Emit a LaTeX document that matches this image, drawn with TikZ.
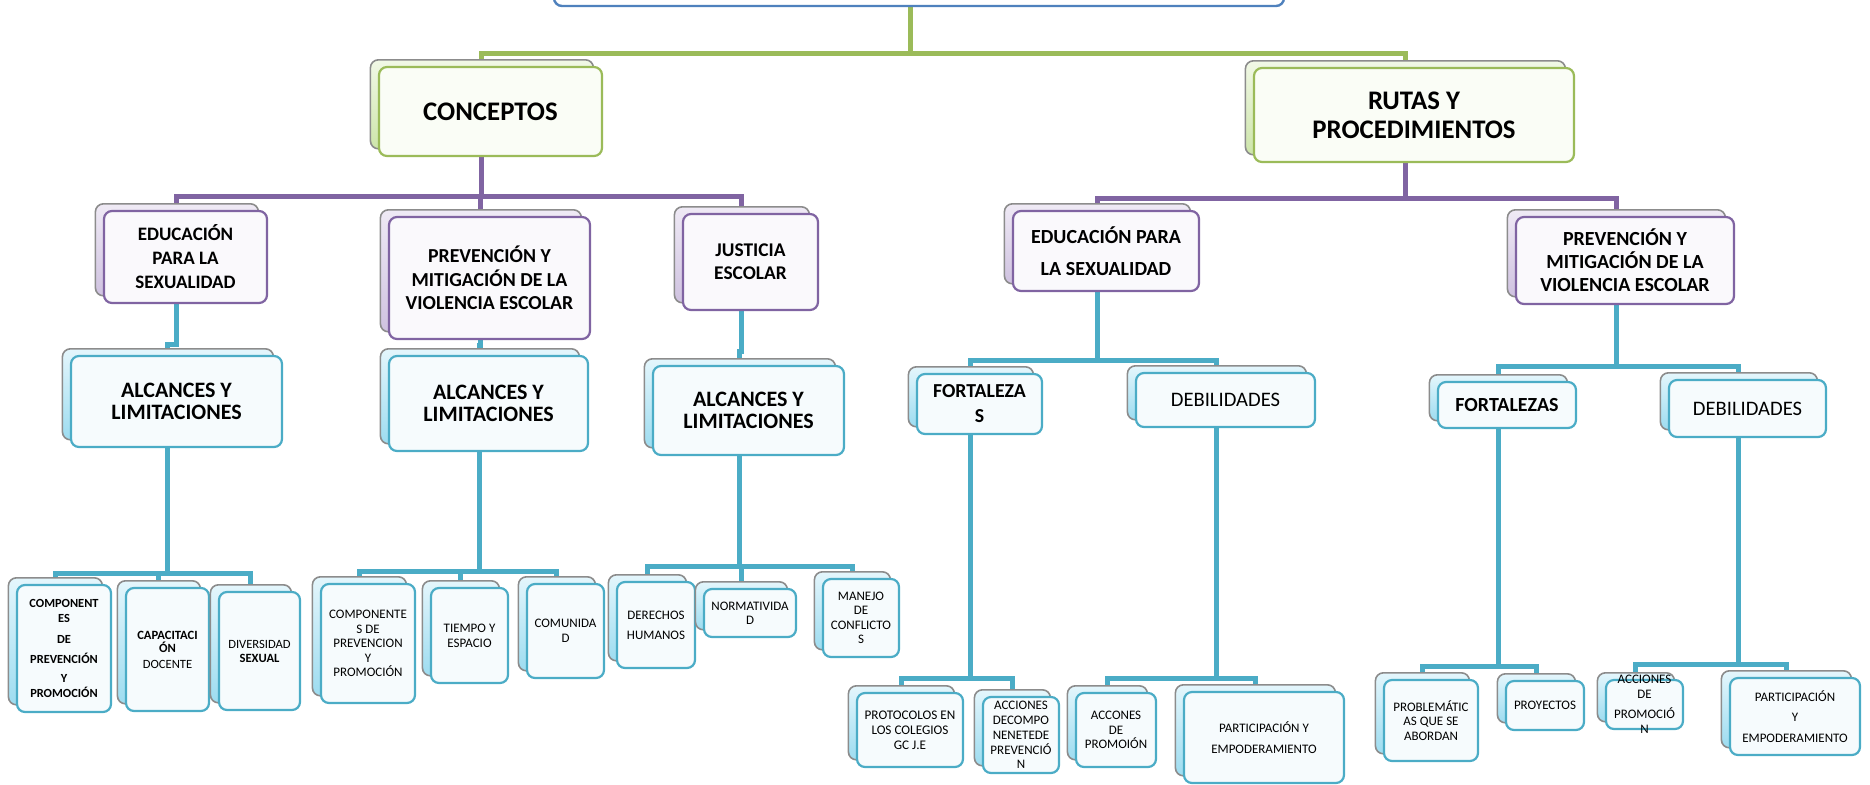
\documentclass[tikz,border=0pt]{standalone}
\usepackage{fontspec}
\setmainfont{Carlito}
\usetikzlibrary{shadows,calc}
\pgfdeclarelayer{bg}
\pgfsetlayers{bg,main}

\definecolor{gline}{HTML}{9BBB59}
\definecolor{pline}{HTML}{8064A2}
\definecolor{cline}{HTML}{4BACC6}
\definecolor{rootdraw}{HTML}{4F81BD}
\definecolor{gbacktop}{HTML}{F1F8E6}
\definecolor{gbackbot}{HTML}{CDE5AA}
\definecolor{gfront}{HTML}{FAFDF6}
\definecolor{pbacktop}{HTML}{EFEAF5}
\definecolor{pbackbot}{HTML}{CFC2E0}
\definecolor{pfront}{HTML}{FAF9FC}
\definecolor{cbacktop}{HTML}{E4F6FC}
\definecolor{cbackbot}{HTML}{9DDCF0}
\definecolor{cfront}{HTML}{F6FBFD}
\definecolor{shadowgray}{HTML}{8C8C8C}

\tikzset{
  mybox/.style={rounded corners=4pt, inner sep=0pt, align=center, anchor=center, line width=1.1pt},
  backlayer/.style 2 args={copy shadow={shadow xshift=-4.3pt, shadow yshift=3.6pt, top color=#1, bottom color=#2, draw=shadowgray, line width=0.8pt}},
  gbox/.style={mybox, draw=gline, fill=gfront, backlayer={gbacktop}{gbackbot}},
  pbox/.style={mybox, draw=pline, fill=pfront, backlayer={pbacktop}{pbackbot}},
  cbox/.style={mybox, draw=cline, fill=cfront, backlayer={cbacktop}{cbackbot}},
  sz/.style 2 args={minimum width=#1pt, minimum height=#2pt},
  fn/.style 2 args={font=\fontsize{#1}{#2}\selectfont},
  fb/.style 2 args={font=\fontsize{#1}{#2}\selectfont\bfseries},
  txt/.style={inner sep=0pt, align=center, anchor=center},
  gcon/.style={draw=gline, line width=2.5pt},
  pcon/.style={draw=pline, line width=2.5pt},
  ccon/.style={draw=cline, line width=2.5pt},
}

\begin{document}
\begin{tikzpicture}[x=0.5pt,y=-0.5pt]
\useasboundingbox (0,0) rectangle (1870,784);
\clip (0,0) rectangle (1870,784);

% root
\node[mybox, draw=rootdraw, fill=white, line width=1.2pt, sz={365}{43}] (root) at (919,-37) {};

% level 1
\node[gbox, sz={111.5}{44.5}, fb={13.4}{14.5}] (conc) at (490.5,111.5) {CONCEPTOS};
\node[gbox, sz={160}{47}, fb={13.4}{14.5}] (rutas) at (1414,115) {RUTAS Y\\PROCEDIMIENTOS};

% level 2
\node[pbox, sz={81.5}{46}, fb={9.5}{12}] (edu1) at (185.5,257) {EDUCACIÓN\\PARA LA\\SEXUALIDAD};
\node[pbox, sz={100.5}{61}, fb={9.9}{11.8}] (prev1) at (489.5,278) {PREVENCIÓN Y\\MITIGACIÓN DE LA\\VIOLENCIA ESCOLAR};
\node[pbox, sz={67.5}{48}, fb={9.7}{11.5}] (just) at (750.5,262) {JUSTICIA\\ESCOLAR};
\node[pbox, sz={93}{40}, fb={10}{16}] (edu2) at (1106,251) {EDUCACIÓN PARA\\LA SEXUALIDAD};
\node[pbox, sz={109}{43.5}, fb={10}{11.5}] (prev2) at (1625,260.5) {PREVENCIÓN Y\\MITIGACIÓN DE LA\\VIOLENCIA ESCOLAR};

% level 3
\node[cbox, sz={105.5}{45.5}, fb={11}{11.2}] (alc1) at (176.5,401.5) {ALCANCES Y\\LIMITACIONES};
\node[cbox, sz={99.5}{47.5}, fb={11}{11.2}] (alc2) at (488.5,403.5) {ALCANCES Y\\LIMITACIONES};
\node[cbox, sz={95.5}{44.5}, fb={11}{11.2}] (alc3) at (748.5,410.5) {ALCANCES Y\\LIMITACIONES};
\node[cbox, sz={62.5}{30}, fb={9.9}{12.5}] (fort1) at (979.5,404) {FORTALEZA\\S};
\node[cbox, sz={89.5}{27}, fn={10.3}{12}] (deb1) at (1225.5,400) {DEBILIDADES};
\node[cbox, sz={69}{23}, fb={10}{12}] (fort2) at (1507,405) {FORTALEZAS};
\node[cbox, sz={78.5}{28.5}, fn={10.3}{12}] (deb2) at (1747.5,408.5) {DEBILIDADES};

% level 4
\node[cbox, sz={47}{63.5}, fb={6.2}{7.5}] (comp1) at (64,648.5) {COMPONENT\\ES\\[3pt]DE\\[2.5pt]PREVENCIÓN\\[2pt]Y\\PROMOCIÓN};
\node[cbox, sz={41.5}{61.5}, fn={6.3}{6.5}] (capa) at (167.5,649.5) {\textbf{CAPACITACI}\\\textbf{ÓN}\\[1.5pt]DOCENTE};
\node[cbox, sz={40.5}{59}, fn={6.3}{7}] (div) at (259.5,651) {DIVERSIDAD\\\textbf{SEXUAL}};
\node[cbox, sz={47}{59.5}, fn={6.5}{7.3}] (comp2) at (368,643.5) {COMPONENTE\\S DE\\PREVENCION\\Y\\PROMOCIÓN};
\node[cbox, sz={38.5}{47.5}, fn={6.5}{7.5}] (tiempo) at (469.5,635.5) {TIEMPO Y\\ESPACIO};
\node[cbox, sz={38.5}{47}, fn={6.5}{7.5}] (comun) at (565.5,631) {COMUNIDA\\D};
\node[cbox, sz={39}{43}, fn={6.5}{10}] (derechos) at (656,625) {DERECHOS\\HUMANOS};
\node[cbox, sz={46}{24}, fn={6.5}{7}] (norma) at (750,613) {NORMATIVIDA\\D};
\node[cbox, sz={38}{39}, fn={6.5}{7.2}] (manejo) at (861,618) {MANEJO\\DE\\CONFLICTO\\S};
\node[cbox, sz={53}{37}, fn={6.6}{7.5}] (proto) at (910,730) {PROTOCOLOS EN\\LOS COLEGIOS\\GC J.E};
\node[cbox, sz={38}{38}, fn={6.5}{7.4}] (accdec) at (1021,735) {ACCIONES\\DECOMPO\\NENETEDE\\PREVENCIÓ\\N};
\node[cbox, sz={40}{37}, fn={6.5}{7.3}] (accon) at (1116,730) {ACCONES\\DE\\PROMOIÓN};
\node[cbox, sz={80}{45.5}, fn={6.5}{10.5}] (part1) at (1264,737.5) {PARTICIPACIÓN Y\\EMPODERAMIENTO};
\node[cbox, sz={47}{40.5}, fn={6.5}{7.3}] (probl) at (1431,720.5) {PROBLEMÁTIC\\AS QUE SE\\ABORDAN};
\node[cbox, sz={39}{24.5}, fn={6.5}{7.5}] (proy) at (1545,705.5) {PROYECTOS};
\node[cbox, sz={38.5}{24.5}] (accprom) at (1644.5,704.5) {};
\node[txt, fn={6.5}{7.5}] (accpromT) at (accprom.center) {ACCIONES\\DE\\[2.5pt]PROMOCIÓ\\N};
\node[cbox, sz={65}{38.5}, fn={6.5}{10.3}] (part2) at (1795,716.5) {PARTICIPACIÓN\\Y\\EMPODERAMIENTO};

% connectors
\begin{pgfonlayer}{bg}
\draw[gcon] ([xshift=-4.5pt]root.south) -- ++(0,46) -| ([xshift=-4.5pt]conc.north);
\draw[gcon] ([xshift=-4.5pt]root.south) -- ++(0,46) -| ([xshift=-4.5pt]rutas.north);

\foreach \c in {edu1,prev1,just}
  \draw[pcon] ([xshift=-4.5pt]conc.south) -- ++(0,39) -| ([xshift=-4.5pt]\c.north);
\foreach \c in {edu2,prev2}
  \draw[pcon] ([xshift=-4.5pt]rutas.south) -- ++(0,35) -| ([xshift=-4.5pt]\c.north);

\draw[ccon] ([xshift=-4.5pt]edu1.south) -- ++(0,40) -| ([xshift=-4.5pt]alc1.north);
\draw[ccon] ([xshift=-4.5pt]prev1.south) -- ++(0,5) -| ([xshift=-4.5pt]alc2.north);
\draw[ccon] ([xshift=-4.5pt]just.south) -- ++(0,40) -| ([xshift=-4.5pt]alc3.north);

\foreach \c in {comp1,capa,div}
  \draw[ccon] ([xshift=-4.5pt]alc1.south) -- ++(0,125) -| ([xshift=-4.5pt]\c.north);
\foreach \c in {comp2,tiempo,comun}
  \draw[ccon] ([xshift=-4.5pt]alc2.south) -- ++(0,119) -| ([xshift=-4.5pt]\c.north);
\foreach \c in {derechos,norma,manejo}
  \draw[ccon] ([xshift=-4.5pt]alc3.south) -- ++(0,110) -| ([xshift=-4.5pt]\c.north);

\foreach \c in {fort1,deb1}
  \draw[ccon] ([xshift=-4.5pt]edu2.south) -- ++(0,68) -| ([xshift=-4.5pt]\c.north);
\foreach \c in {fort2,deb2}
  \draw[ccon] ([xshift=-4.5pt]prev2.south) -- ++(0,61) -| ([xshift=-4.5pt]\c.north);

\foreach \c in {proto,accdec}
  \draw[ccon] ([xshift=-4.5pt]fort1.south) -- ++(0,243) -| ([xshift=-4.5pt]\c.north);
\foreach \c in {accon,part1}
  \draw[ccon] ([xshift=-4.5pt]deb1.south) -- ++(0,250) -| ([xshift=-4.5pt]\c.north);
\foreach \c in {probl,proy}
  \draw[ccon] ([xshift=-4.5pt]fort2.south) -- ++(0,237) -| ([xshift=-4.5pt]\c.north);
\foreach \c in {accprom,part2}
  \draw[ccon] ([xshift=-4.5pt]deb2.south) -- ++(0,226) -| ([xshift=-4.5pt]\c.north);
\end{pgfonlayer}
\end{tikzpicture}
\end{document}
